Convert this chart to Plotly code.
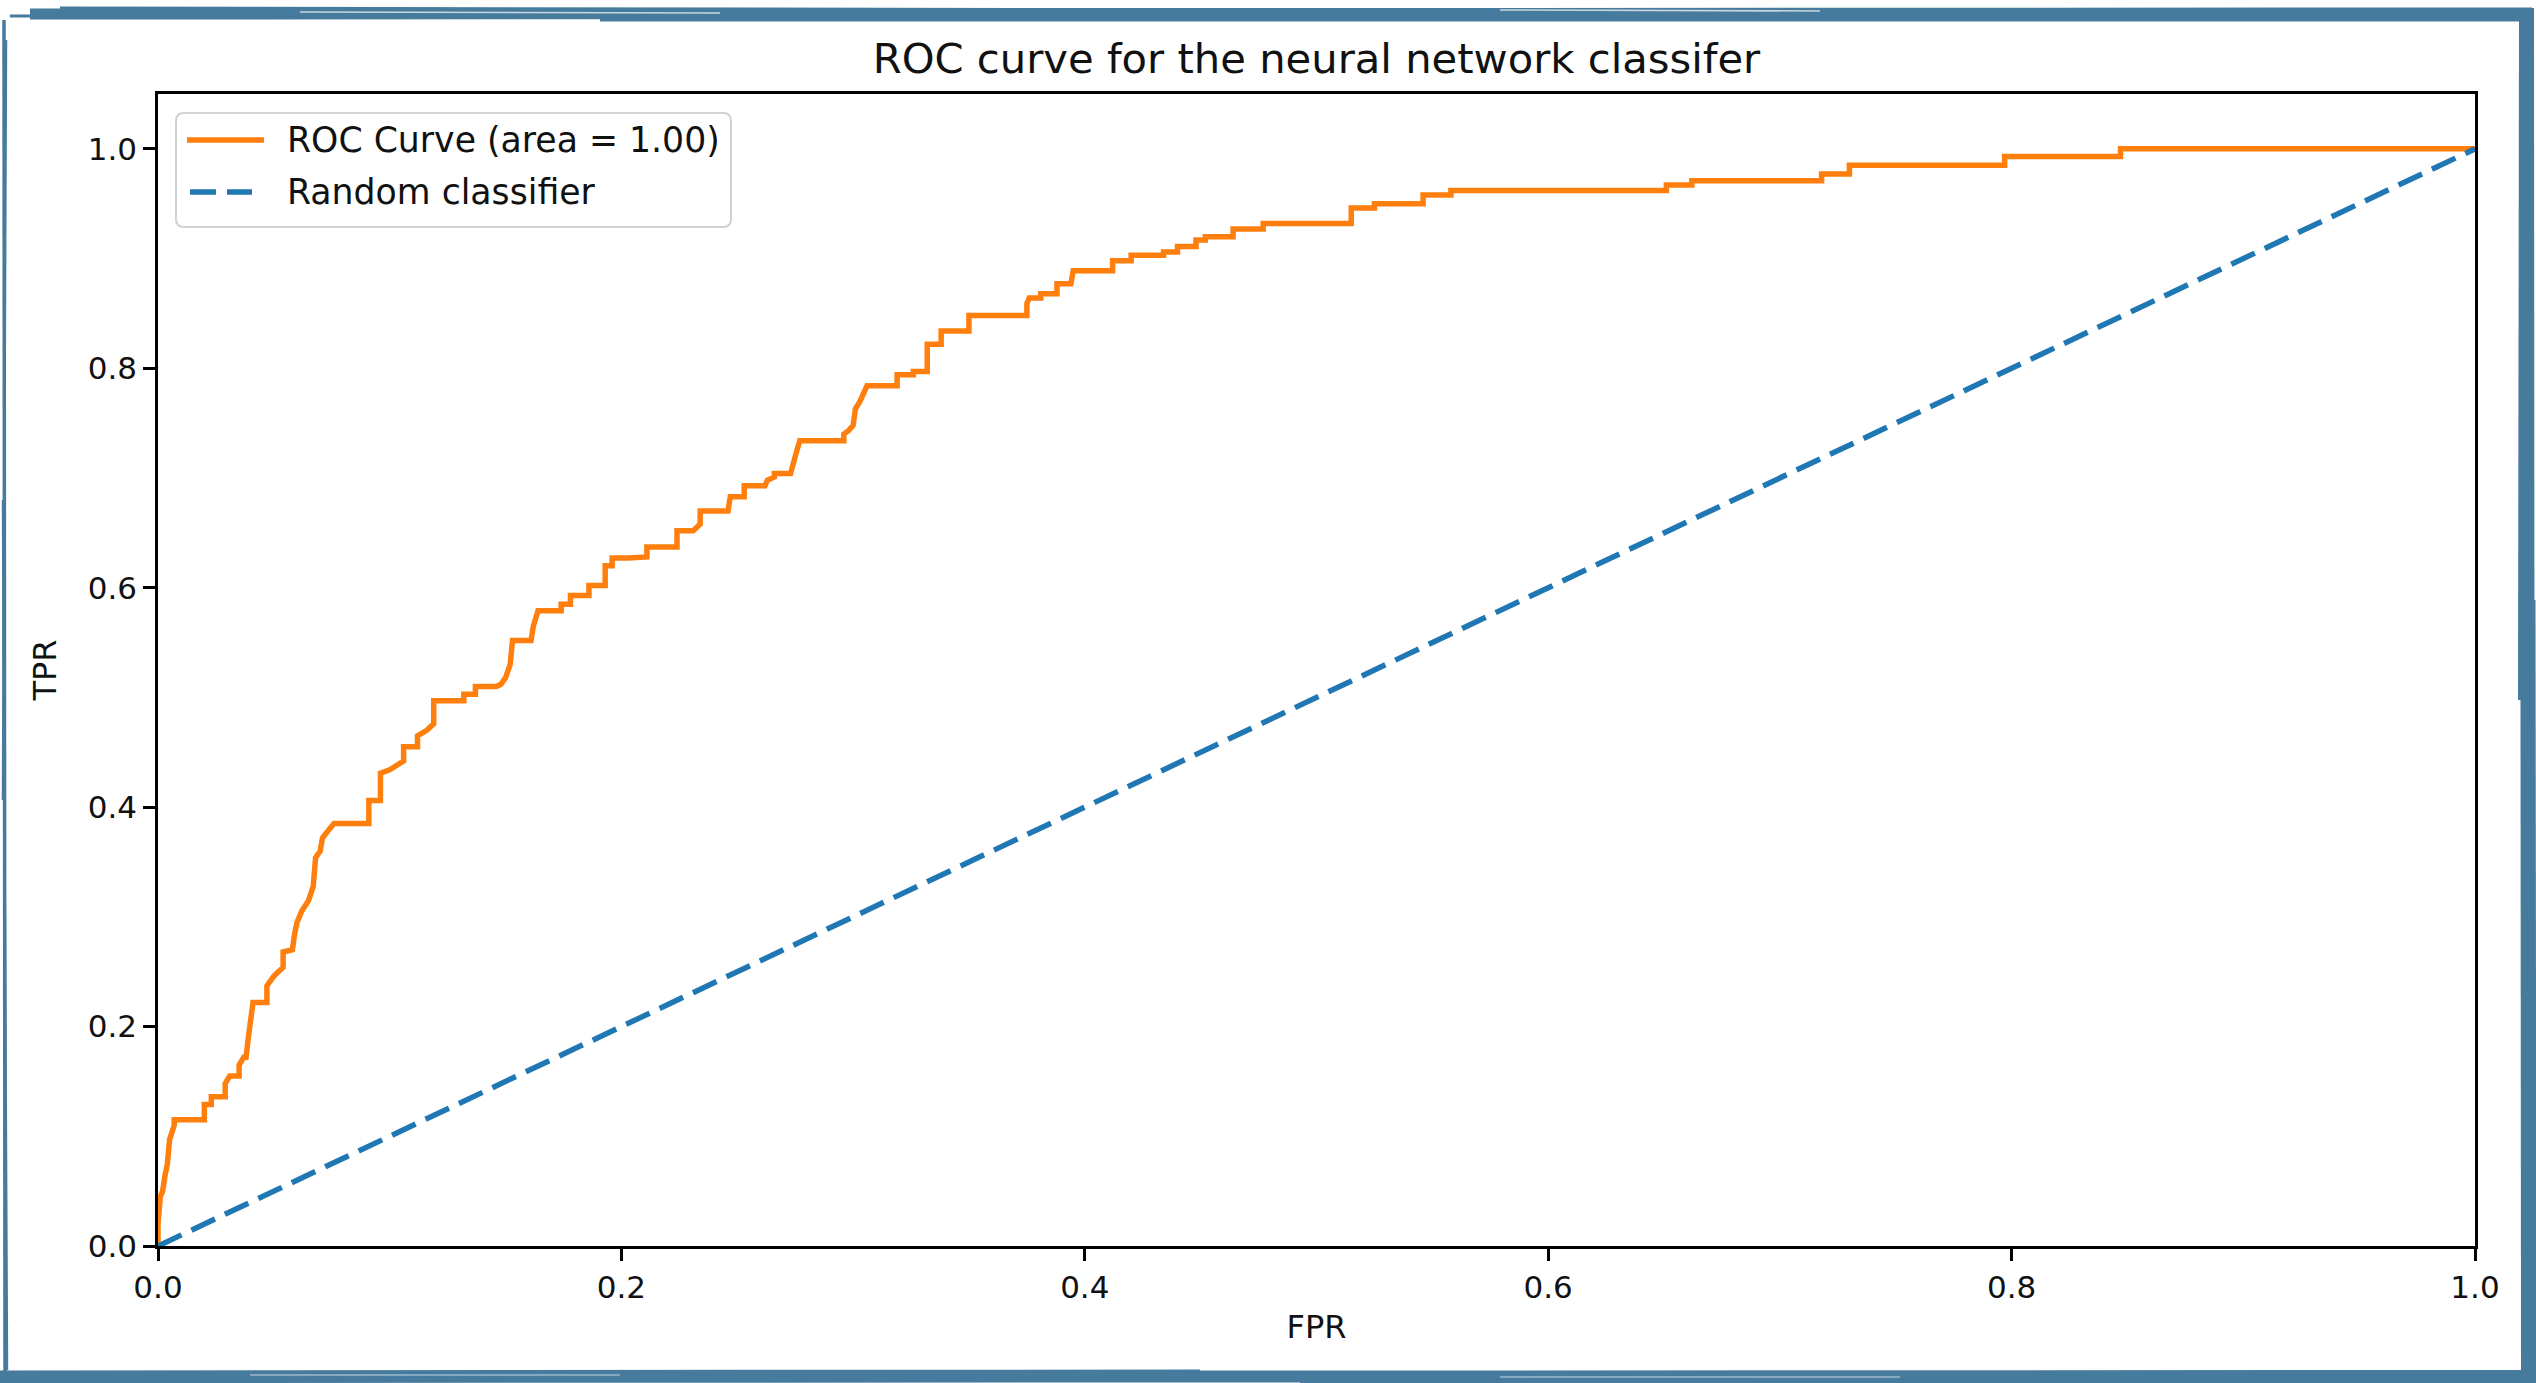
import plotly.graph_objects as go

# ROC curve vertices (false positive rate, true positive rate), in drawing order
FPR = [
    0.000, 0.000, 0.001, 0.002, 0.003, 0.004, 0.005, 0.007, 0.007, 0.020,
    0.020, 0.023, 0.023, 0.029, 0.029, 0.031, 0.035, 0.035, 0.037, 0.038,
    0.039, 0.040, 0.041, 0.047, 0.047, 0.050, 0.054, 0.054, 0.058, 0.059,
    0.060, 0.062, 0.065, 0.067, 0.068, 0.070, 0.071, 0.074, 0.076, 0.091,
    0.091, 0.096, 0.096, 0.100, 0.106, 0.106, 0.112, 0.112, 0.116, 0.119,
    0.119, 0.132, 0.132, 0.137, 0.137, 0.146, 0.148, 0.150, 0.152, 0.153,
    0.161, 0.162, 0.164, 0.174, 0.174, 0.178, 0.178, 0.186, 0.186, 0.193,
    0.193, 0.196, 0.196, 0.203, 0.211, 0.211, 0.224, 0.224, 0.231, 0.234,
    0.234, 0.246, 0.247, 0.253, 0.253, 0.262, 0.263, 0.266, 0.266, 0.273,
    0.274, 0.275, 0.276, 0.277, 0.296, 0.296, 0.298, 0.300, 0.301, 0.303,
    0.306, 0.319, 0.319, 0.326, 0.326, 0.332, 0.332, 0.338, 0.338, 0.350,
    0.350, 0.375, 0.375, 0.376, 0.381, 0.381, 0.388, 0.388, 0.394, 0.395,
    0.412, 0.412, 0.420, 0.420, 0.434, 0.434, 0.440, 0.440, 0.448, 0.448,
    0.452, 0.452, 0.464, 0.464, 0.477, 0.477, 0.515, 0.515, 0.525, 0.525,
    0.546, 0.546, 0.558, 0.558, 0.651, 0.651, 0.662, 0.662, 0.718, 0.718,
    0.730, 0.730, 0.797, 0.797, 0.847, 0.847, 1.000,
]
TPR = [
    0.000, 0.020, 0.045, 0.050, 0.064, 0.074, 0.097, 0.110, 0.115, 0.115,
    0.129, 0.129, 0.136, 0.136, 0.148, 0.155, 0.155, 0.165, 0.172, 0.172,
    0.190, 0.211, 0.222, 0.222, 0.237, 0.246, 0.254, 0.268, 0.270, 0.285,
    0.295, 0.305, 0.315, 0.328, 0.354, 0.360, 0.372, 0.380, 0.385, 0.385,
    0.406, 0.406, 0.431, 0.434, 0.442, 0.455, 0.455, 0.465, 0.470, 0.476,
    0.497, 0.497, 0.503, 0.503, 0.510, 0.510, 0.512, 0.518, 0.530, 0.552,
    0.552, 0.565, 0.579, 0.579, 0.585, 0.585, 0.593, 0.593, 0.602, 0.602,
    0.620, 0.620, 0.627, 0.627, 0.628, 0.637, 0.637, 0.652, 0.652, 0.658,
    0.670, 0.670, 0.683, 0.683, 0.693, 0.693, 0.698, 0.701, 0.704, 0.704,
    0.713, 0.719, 0.727, 0.734, 0.734, 0.740, 0.743, 0.748, 0.763, 0.770,
    0.784, 0.784, 0.794, 0.794, 0.797, 0.797, 0.822, 0.822, 0.834, 0.834,
    0.848, 0.848, 0.859, 0.864, 0.864, 0.868, 0.868, 0.877, 0.877, 0.889,
    0.889, 0.898, 0.898, 0.903, 0.903, 0.906, 0.906, 0.911, 0.911, 0.917,
    0.917, 0.920, 0.920, 0.927, 0.927, 0.932, 0.932, 0.946, 0.946, 0.950,
    0.950, 0.958, 0.958, 0.962, 0.962, 0.967, 0.967, 0.971, 0.971, 0.977,
    0.977, 0.985, 0.985, 0.993, 0.993, 1.000, 1.000,
]

# chance-level reference line
RANDOM_FPR = [0.0, 1.0]
RANDOM_TPR = [0.0, 1.0]

AUC = 1.00
ROC_NAME = f"ROC Curve (area = {AUC:.2f})"
RANDOM_NAME = "Random classifier"

TICK_VALUES = [0.0, 0.2, 0.4, 0.6, 0.8, 1.0]
TICK_LABELS = ["0.0", "0.2", "0.4", "0.6", "0.8", "1.0"]

TITLE = "ROC curve for the neural network classifer"
X_LABEL = "FPR"
Y_LABEL = "TPR"

# ---------------------------------------------------------------- layout
W, H = 2536, 1383
ML, MR, MT, MB = 158, 61, 94, 137
PW = W - ML - MR
PH = H - MT - MB

FONT = "DejaVu Sans"
ORANGE = "#ff7f0e"
BLUE = "#1f77b4"
FRAME = "#467b9d"
DASH = "26px,11px"
LW = 5.5


def to_paper(x, y):
    """Convert page pixel coordinates into paper coordinates."""
    return (x - ML) / PW, (H - MB - y) / PH


def seg(x0, y0, x1, y1, width, color=FRAME, opacity=1.0, dash=None):
    a = to_paper(x0, y0)
    b = to_paper(x1, y1)
    line = dict(color=color, width=width)
    if dash:
        line["dash"] = dash
    return dict(type="line", xref="paper", yref="paper",
                x0=a[0], y0=a[1], x1=b[0], y1=b[1],
                line=line, opacity=opacity, layer="above")


def rounded_box(x0, y0, x1, y1, r):
    def p(x, y):
        px, py = to_paper(x, y)
        return f"{px:.6f},{py:.6f}"
    path = (f"M {p(x0 + r, y0)} L {p(x1 - r, y0)} Q {p(x1, y0)} {p(x1, y0 + r)} "
            f"L {p(x1, y1 - r)} Q {p(x1, y1)} {p(x1 - r, y1)} "
            f"L {p(x0 + r, y1)} Q {p(x0, y1)} {p(x0, y1 - r)} "
            f"L {p(x0, y0 + r)} Q {p(x0, y0)} {p(x0 + r, y0)} Z")
    return dict(type="path", xref="paper", yref="paper", path=path,
                fillcolor="rgba(255,255,255,0.8)",
                line=dict(color="#d2d2d2", width=2), layer="above")


fig = go.Figure()

fig.add_trace(go.Scatter(
    x=FPR, y=TPR, mode="lines", name=ROC_NAME,
    line=dict(color=ORANGE, width=LW),
    showlegend=False, hoverinfo="skip",
))
fig.add_trace(go.Scatter(
    x=RANDOM_FPR, y=RANDOM_TPR, mode="lines", name=RANDOM_NAME,
    line=dict(color=BLUE, width=LW, dash=DASH),
    showlegend=False, hoverinfo="skip",
))

axis_common = dict(
    showline=True, linecolor="black", linewidth=2.5, mirror=True,
    ticks="outside", ticklen=12, tickwidth=2.5, tickcolor="black",
    showgrid=False, zeroline=False,
    tickvals=TICK_VALUES, ticktext=TICK_LABELS,
    tickfont=dict(family=FONT, size=31, color="#111111"),
)

fig.update_xaxes(
    range=[0, 1], **axis_common,
    title=dict(text=X_LABEL, font=dict(family=FONT, size=32, color="#111111"),
               standoff=12),
)
fig.update_yaxes(
    range=[0, 1.05], **axis_common,
    title=dict(text=Y_LABEL, font=dict(family=FONT, size=32, color="#111111"),
               standoff=22),
)

# sketched picture frame around the page
frame = [
    # top edge
    seg(30, 14, 2532, 13, 11),
    seg(60, 9, 1400, 11, 5),
    seg(600, 19, 2522, 19, 5),
    seg(10, 16, 520, 15, 3),
    seg(300, 12, 720, 13, 1.5, color="white", opacity=0.7),
    seg(1500, 10, 1820, 11, 1.5, color="white", opacity=0.7),
    # right edge
    seg(2527, 8, 2528, 1383, 14),
    seg(2521, 10, 2520, 700, 4),
    seg(2533, 600, 2534, 1383, 5),
    # left edge
    seg(4, 20, 5, 1383, 3.5),
    seg(6, 40, 3, 800, 2.5),
    seg(3, 500, 7, 1370, 2.5),
    # bottom edge
    seg(0, 1377, 2536, 1376, 12),
    seg(0, 1372, 1200, 1371, 3),
    seg(1300, 1381, 2536, 1382, 5),
    seg(250, 1375, 620, 1375, 1.2, color="white", opacity=0.7),
    seg(1500, 1377, 1900, 1377, 1.2, color="white", opacity=0.7),
]

# legend box with line samples
legend_shapes = [
    rounded_box(176, 113, 731, 227, 8),
    seg(187, 140, 264, 140, LW, color=ORANGE),
    seg(190, 192, 252, 192, LW, color=BLUE, dash=DASH),
]

annotations = []
for name, ypix in [(ROC_NAME, 140), (RANDOM_NAME, 192)]:
    ax, ay = to_paper(285, ypix)
    annotations.append(dict(
        text=name, xref="paper", yref="paper", x=ax, y=ay,
        xanchor="left", yanchor="middle", showarrow=False,
        font=dict(family=FONT, size=34.7, color="#111111"),
    ))

fig.update_layout(
    width=W, height=H,
    margin=dict(l=ML, r=MR, t=MT, b=MB, pad=0),
    paper_bgcolor="white", plot_bgcolor="white",
    title=dict(text=TITLE, x=0.5, xref="paper", xanchor="center",
               y=1 - 58 / H, yref="container", yanchor="middle",
               font=dict(family=FONT, size=41.7, color="#111111")),
    shapes=frame + legend_shapes,
    annotations=annotations,
    showlegend=False,
)

fig.write_html("out.html")
